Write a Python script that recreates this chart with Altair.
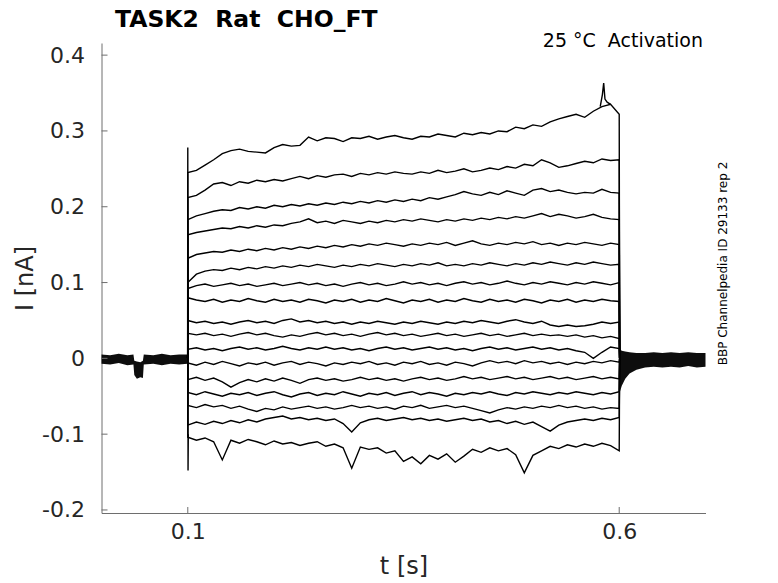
import altair as alt
import pandas as pd

FONT = "DejaVu Sans"
NBSP = "\u00a0"

# sample times during the voltage step [s]
T_STEP = [0.10, 0.11, 0.12, 0.13, 0.14, 0.15, 0.16, 0.17, 0.18, 0.19,
          0.20, 0.21, 0.22, 0.23, 0.24, 0.25, 0.26, 0.27, 0.28, 0.29,
          0.30, 0.31, 0.32, 0.33, 0.34, 0.35, 0.36, 0.37, 0.38, 0.39,
          0.40, 0.41, 0.42, 0.43, 0.44, 0.45, 0.46, 0.47, 0.48, 0.49,
          0.50, 0.51, 0.52, 0.53, 0.54, 0.55, 0.56, 0.57, 0.58, 0.59, 0.60]

# currents in pA (top trace first)
I01 = [245, 248, 255, 262, 270, 274, 276, 273, 272, 271, 278, 282, 280, 281, 292, 287, 291, 290, 286, 291,
       290, 293, 289, 292, 294, 291, 289, 293, 292, 296, 294, 292, 297, 295, 298, 296, 300, 299, 305, 303,
       308, 306, 312, 316, 319, 322, 318, 326, 332, 335, 322]
I02 = [212, 215, 222, 230, 232, 228, 233, 231, 235, 233, 236, 234, 237, 240, 237, 241, 239, 242, 243, 240,
       244, 242, 245, 243, 246, 244, 243, 246, 244, 248, 245, 247, 250, 246, 248, 251, 249, 253, 251, 256,
       254, 262, 258, 252, 254, 257, 260, 258, 263, 261, 262]
I03 = [183, 188, 191, 194, 196, 195, 199, 197, 200, 198, 202, 200, 203, 201, 204, 202, 205, 203, 206, 204,
       207, 205, 208, 206, 209, 207, 210, 208, 212, 210, 213, 216, 220, 217, 215, 219, 216, 221, 218, 215,
       222, 224, 220, 222, 219, 217, 219, 218, 223, 219, 218]
I04 = [163, 166, 168, 170, 172, 171, 174, 172, 175, 173, 176, 175, 178, 180, 184, 179, 181, 178, 182, 180,
       178, 181, 179, 182, 180, 183, 181, 184, 182, 180, 183, 181, 184, 182, 185, 183, 186, 184, 187, 185,
       188, 191, 187, 190, 188, 185, 187, 190, 186, 184, 183]
I05 = [132, 137, 139, 141, 140, 143, 141, 144, 142, 145, 143, 146, 144, 147, 145, 148, 146, 149, 147, 150,
       148, 151, 149, 152, 150, 148, 151, 149, 152, 150, 153, 149, 152, 155, 151, 149, 152, 150, 153, 151,
       154, 150, 152, 149, 152, 150, 153, 151, 149, 152, 150]
I06 = [100, 111, 115, 117, 116, 119, 117, 120, 118, 121, 119, 122, 120, 123, 121, 124, 122, 120, 123, 121,
       124, 122, 125, 123, 121, 124, 122, 125, 123, 126, 122, 124, 122, 125, 123, 126, 124, 122, 125, 123,
       126, 124, 127, 125, 123, 126, 124, 127, 125, 123, 124]
I07 = [92, 96, 98, 95, 97, 99, 96, 98, 95, 97, 99, 96, 98, 100, 97, 99, 96, 98, 95, 98,
       100, 97, 99, 96, 98, 101, 98, 100, 97, 99, 96, 99, 101, 98, 100, 97, 99, 102, 99, 97,
       100, 98, 101, 99, 97, 100, 98, 101, 99, 97, 100]
I08 = [80, 77, 75, 78, 74, 77, 75, 79, 76, 74, 78, 75, 77, 74, 78, 76, 73, 77, 75, 78,
       74, 77, 75, 79, 76, 73, 77, 75, 78, 74, 77, 75, 79, 76, 74, 78, 75, 77, 74, 78,
       76, 73, 77, 75, 78, 74, 77, 75, 78, 76, 75]
I09 = [50, 47, 49, 46, 48, 45, 48, 50, 47, 49, 46, 50, 52, 48, 50, 47, 49, 46, 48, 45,
       48, 46, 49, 47, 45, 48, 46, 49, 47, 45, 48, 46, 49, 47, 50, 48, 46, 49, 51, 48,
       46, 49, 44, 42, 44, 42, 43, 45, 48, 46, 48]
I10 = [33, 31, 33, 30, 32, 29, 32, 34, 31, 33, 30, 28, 31, 29, 32, 34, 31, 33, 30, 32,
       29, 32, 34, 31, 33, 30, 32, 29, 31, 33, 30, 32, 29, 31, 33, 30, 32, 29, 31, 33,
       30, 32, 30, 31, 29, 31, 28, 30, 27, 29, 26]
I11 = [12, 14, 11, 13, 10, 13, 15, 12, 14, 11, 13, 16, 13, 11, 14, 12, 15, 12, 14, 11,
       13, 10, 13, 15, 12, 14, 11, 13, 15, 12, 14, 11, 13, 10, 13, 15, 12, 14, 11, 13,
       15, 12, 14, 11, 13, 10, 8, 0, 8, 15, 13]
I12 = [-6, -9, -5, -8, -4, -7, -10, -6, -8, -5, -9, -6, -4, -8, -5, -7, -10, -6, -8, -5,
       -7, -4, -8, -6, -9, -5, -7, -4, -8, -6, -9, -5, -7, -10, -6, -3, -6, -4, -7, -3,
       -6, -4, -7, -5, -8, -5, -7, -4, -6, -3, -5]
I13 = [-28, -25, -29, -26, -31, -38, -32, -28, -31, -27, -30, -26, -29, -33, -28, -26, -29, -27, -30, -28,
       -25, -28, -26, -29, -27, -30, -27, -25, -28, -26, -29, -27, -24, -27, -25, -28, -26, -24, -27, -25,
       -28, -26, -24, -27, -25, -28, -26, -24, -27, -25, -27]
I14 = [-45, -48, -44, -47, -50, -46, -48, -45, -49, -46, -44, -48, -51, -47, -45, -49, -46, -48, -44, -47,
       -50, -46, -48, -45, -49, -46, -44, -48, -45, -47, -50, -46, -48, -45, -47, -44, -47, -49, -45, -47,
       -44, -46, -48, -45, -47, -44, -46, -48, -45, -47, -44]
I15 = [-62, -65, -61, -64, -62, -66, -63, -67, -70, -66, -68, -64, -67, -65, -63, -66, -64, -67, -65, -62,
       -65, -63, -66, -64, -67, -63, -65, -62, -66, -64, -62, -65, -63, -66, -69, -72, -68, -65, -67, -64,
       -66, -63, -65, -62, -65, -63, -66, -64, -67, -65, -66]
I16 = [-88, -84, -87, -83, -86, -82, -85, -81, -84, -80, -78, -76, -80, -78, -81, -79, -82, -80, -86, -97,
       -85, -81, -79, -82, -80, -78, -81, -79, -82, -80, -83, -81, -79, -82, -80, -84, -82, -86, -83, -87,
       -84, -90, -96, -88, -84, -82, -80, -82, -79, -81, -78]
I17 = [-104, -108, -105, -110, -134, -108, -112, -107, -110, -114, -109, -113, -111, -115, -112, -110, -116, -113, -118, -145,
       -117, -120, -118, -125, -122, -136, -130, -139, -128, -133, -126, -137, -129, -120, -124, -118, -122, -119, -127, -151,
       -128, -122, -116, -119, -114, -117, -113, -116, -112, -115, -122]
TRACES = [I01, I02, I03, I04, I05, I06, I07, I08, I09, I10, I11, I12, I13, I14, I15, I16, I17]

# capacitive transient at step onset, and the late peak of the top trace (pA)
ON_T = [0.0998, 0.1000, 0.1003, 0.1006]
ON_I = [0, 278, -148, -100]
PEAK_T = [0.578, 0.5805, 0.582, 0.5835, 0.586, 0.590]
PEAK_I = [332, 348, 363, 342, 338, 335]

# noise envelope of the overlapping traces before and after the step (pA)
PRE_T = [0.0, 0.010, 0.020, 0.030, 0.037, 0.038, 0.041, 0.045, 0.048, 0.049, 0.060, 0.070, 0.080, 0.090, 0.0999]
PRE_LO = [-7, -8, -6, -9, -8, -22, -27, -25, -26, -8, -7, -9, -7, -8, -7]
PRE_HI = [5, 4, 6, 4, 5, -3, -4, -5, -3, 5, 4, 6, 4, 5, 5]
POST_T = [0.6005, 0.603, 0.607, 0.612, 0.620, 0.630, 0.640, 0.650, 0.660, 0.670, 0.680, 0.690, 0.700]
POST_LO = [-45, -36, -27, -20, -15, -12, -11, -12, -11, -12, -10, -12, -11]
POST_HI = [12, 10, 9, 8, 7, 7, 8, 7, 8, 7, 8, 7, 7]

Y_TICKS = [-0.2, -0.1, 0.0, 0.1, 0.2, 0.3, 0.4]
X_TICKS = [0.1, 0.6]

TITLE = "TASK2" + NBSP + NBSP + "Rat" + NBSP + NBSP + "CHO_FT"
COND = "25 °C" + NBSP + NBSP + "Activation"
SIDE = "BBP Channelpedia ID 29133 rep 2"

# ---- tables ----
rows = []
for k, vals in enumerate(TRACES):
    name = f"trace{k + 1:02d}"
    rows.append({"trace": name, "t": 0.0999, "v": 0.0})
    for t, v in zip(T_STEP, vals):
        rows.append({"trace": name, "t": t, "v": v / 1000})
    rows.append({"trace": name, "t": 0.6005, "v": 0.0})
for t, v in zip(ON_T, ON_I):
    rows.append({"trace": "onset", "t": t, "v": v / 1000})
for t, v in zip(PEAK_T, PEAK_I):
    rows.append({"trace": "peak", "t": t, "v": v / 1000})
lines_df = pd.DataFrame(rows)

band_df = pd.DataFrame(
    {"t": PRE_T + POST_T,
     "v": [v / 1000 for v in PRE_LO + POST_LO],
     "v2": [v / 1000 for v in PRE_HI + POST_HI],
     "part": ["pre"] * len(PRE_T) + ["post"] * len(POST_T)}
)

XS = alt.Scale(domain=[0, 0.7], nice=False, zero=False)
YS = alt.Scale(domain=[-0.204, 0.416], nice=False, zero=False)
AX_COL = "#6e6e6e"
TXT_COL = "#262626"

X_AX = alt.Axis(values=X_TICKS, format=".1f", title="t [s]", grid=False, ticks=False,
                domainColor=AX_COL, domainWidth=1, labelFont=FONT, labelFontSize=22,
                labelColor=TXT_COL, labelPadding=8, titleFont=FONT, titleFontSize=24,
                titleFontWeight="normal", titleColor=TXT_COL, titlePadding=12,
                labelFlush=False)
Y_AX = alt.Axis(values=Y_TICKS, title="I [nA]", grid=False, ticks=False,
                labelExpr="datum.value == 0 ? '0' : (datum.value < 0 ? '-' + format(-datum.value, '.1f') : format(datum.value, '.1f'))",
                domainColor=AX_COL, domainWidth=1, labelFont=FONT, labelFontSize=22,
                labelColor=TXT_COL, labelPadding=17, titleFont=FONT, titleFontSize=24,
                titleFontWeight="normal", titleColor=TXT_COL, titlePadding=4,
                labelFlush=False)

bands = alt.Chart(band_df).mark_area(color="black", opacity=0.95).encode(
    x=alt.X("t:Q", scale=XS, axis=X_AX),
    y=alt.Y("v:Q", scale=YS, axis=Y_AX),
    y2="v2:Q",
    detail="part:N",
)

lines = alt.Chart(lines_df).mark_line(color="black", strokeWidth=1.4).encode(
    x=alt.X("t:Q", scale=XS, axis=X_AX),
    y=alt.Y("v:Q", scale=YS, axis=Y_AX),
    detail="trace:N",
)

ytick_df = pd.DataFrame({"v": Y_TICKS})
xtick_df = pd.DataFrame({"t": X_TICKS})
yticks = alt.Chart(ytick_df).mark_rule(color=AX_COL, strokeWidth=1).encode(
    y=alt.Y("v:Q", scale=YS, axis=Y_AX), x=alt.value(0), x2=alt.value(6)
)
xticks = alt.Chart(xtick_df).mark_rule(color=AX_COL, strokeWidth=1).encode(
    x=alt.X("t:Q", scale=XS, axis=X_AX), y=alt.value(470), y2=alt.value(464)
)

title_txt = alt.Chart(pd.DataFrame({"label": [TITLE]})).mark_text(
    font=FONT, fontSize=23.5, fontWeight="bold", color="black", align="left", baseline="alphabetic"
).encode(text="label:N", x=alt.value(13.5), y=alt.value(-16))

cond = alt.Chart(pd.DataFrame({"label": [COND]})).mark_text(
    font=FONT, fontSize=19, color="black", align="right", baseline="alphabetic"
).encode(text="label:N", x=alt.value(601.5), y=alt.value(4))

side = alt.Chart(pd.DataFrame({"label": [SIDE]})).mark_text(
    font=FONT, fontSize=12, color="black", align="center", baseline="alphabetic", angle=270
).encode(text="label:N", x=alt.value(625.5), y=alt.value(220.5))

chart = alt.layer(bands, lines, yticks, xticks, title_txt, cond, side).properties(
    width=604,
    height=470,
    background="white",
    autosize=alt.AutoSizeParams(type="none"),
    padding={"left": 93.5, "top": 35, "right": 56, "bottom": 66},
).configure_view(stroke=None)

chart.save("out.html", embed_options={"renderer": "svg", "actions": False})
